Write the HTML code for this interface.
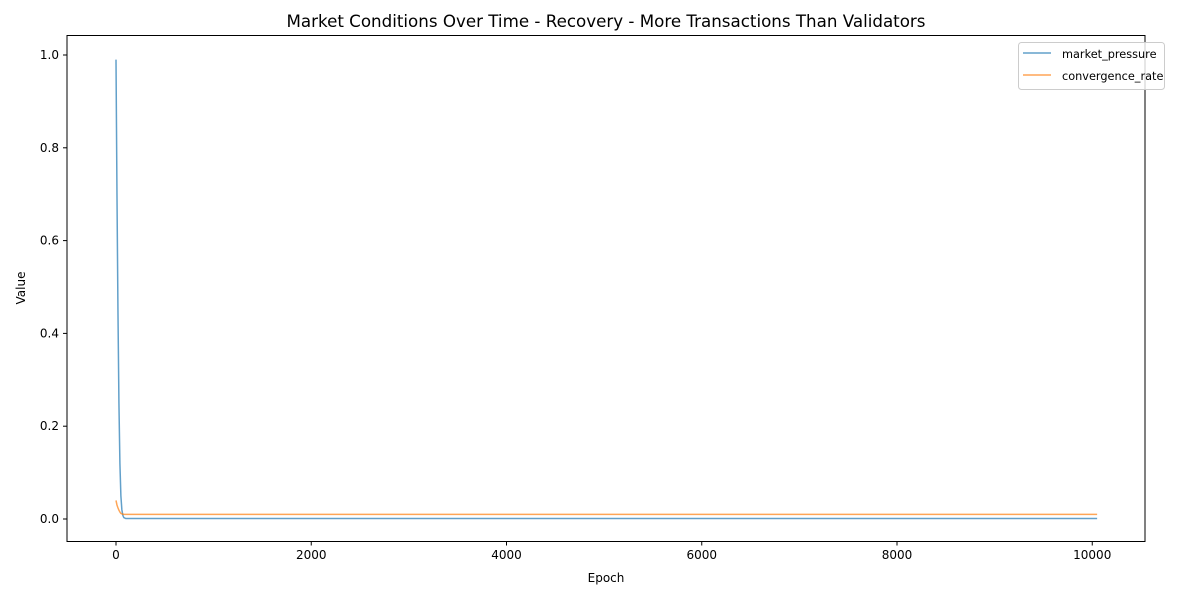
<!DOCTYPE html>
<html><head><meta charset="utf-8"><style>
body{margin:0;background:#fff;}
svg text{font-family:"DejaVu Sans","Liberation Sans",sans-serif;fill:#000;}
</style></head><body>
<svg id="chart" width="1200" height="600" xmlns="http://www.w3.org/2000/svg">
<rect width="1200" height="600" fill="#fff"/>
<text x="606" y="27" font-size="16.7" text-anchor="middle">Market Conditions Over Time - Recovery - More Transactions Than Validators</text>
<g id="plot"></g>
<rect x="67" y="35.5" width="1078" height="506" fill="none" stroke="#000" stroke-width="1"/>
<text x="606" y="582" font-size="12" text-anchor="middle">Epoch</text>
<text x="25" y="288" font-size="12" text-anchor="middle" transform="rotate(-90 25 288)">Value</text>
<g>
<rect x="1018.5" y="42.5" width="146" height="47" rx="3" fill="#fff" fill-opacity="0.8" stroke="#ccc"/>
<line x1="1023" y1="53" x2="1051" y2="53" stroke="#1f77b4" stroke-opacity="0.7" stroke-width="1.5"/>
<text x="1062" y="58" font-size="11.3">market_pressure</text>
<line x1="1023" y1="75" x2="1051" y2="75" stroke="#ff7f0e" stroke-opacity="0.7" stroke-width="1.5"/>
<text x="1062" y="80" font-size="11.3">convergence_rate</text>
</g>
</svg>
<script>
const epochs = [0, 10, 20, 30, 40, 50, 60, 70, 80, 100, 200, 1000, 5000, 10050];
const marketPressure = [0.99, 0.70, 0.45, 0.25, 0.12, 0.05, 0.02, 0.008, 0.003, 0.001, 0.001, 0.001, 0.001, 0.001];
const convergenceRate = [0.04, 0.03, 0.024, 0.019, 0.015, 0.012, 0.011, 0.0105, 0.01, 0.01, 0.01, 0.01, 0.01, 0.01];
const xTicks = [0, 2000, 4000, 6000, 8000, 10000];
const yTicks = [0.0, 0.2, 0.4, 0.6, 0.8, 1.0];

const NS = 'http://www.w3.org/2000/svg';
const xs = v => 116 + v * (781 / 8000);
const ys = v => 519 - v * 464;
const plot = document.getElementById('plot');
function mk(tag, attrs){const e=document.createElementNS(NS,tag);for(const k in attrs)e.setAttribute(k,attrs[k]);return e;}

xTicks.forEach(t=>{
  const g = mk('g',{});
  
  
  g.appendChild(mk('line',{x1:xs(t),x2:xs(t),y1:541.5,y2:545.5,stroke:'#000'}));
  const tx = mk('text',{x:xs(t),y:559,'font-size':12,'text-anchor':'middle'});
  tx.textContent = t;
  g.appendChild(tx);
  plot.appendChild(g);
});
yTicks.forEach(t=>{
  const g = mk('g',{});
  
  
  g.appendChild(mk('line',{x1:63,x2:67,y1:ys(t),y2:ys(t),stroke:'#000'}));
  const tx = mk('text',{x:59,y:ys(t)+4,'font-size':12,'text-anchor':'end'});
  tx.textContent = t.toFixed(1);
  g.appendChild(tx);
  plot.appendChild(g);
});
function series(vals,color,name){
  const p = mk('polyline',{points:epochs.map((e,i)=>xs(e)+','+ys(vals[i])).join(' '),fill:'none',stroke:color,'stroke-opacity':0.7,'stroke-width':1.5});
  
  
  plot.appendChild(p);
}
series(marketPressure,'#1f77b4','market-pressure-line');
series(convergenceRate,'#ff7f0e','convergence-rate-line');
</script>
</body></html>
